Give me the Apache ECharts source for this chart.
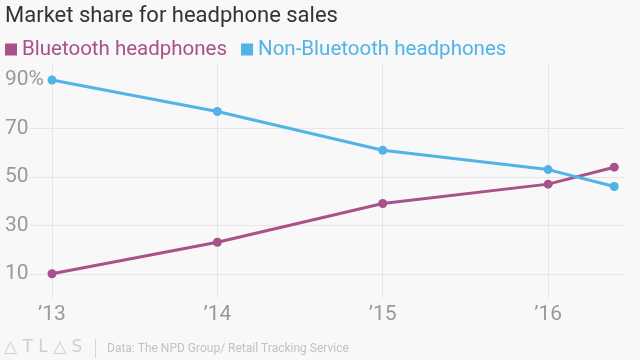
<!DOCTYPE html>
<html><head><meta charset="utf-8">
<script src="https://cdn.jsdelivr.net/npm/echarts@6/dist/echarts.min.js"></script>
<style>html,body{margin:0;padding:0;background:#f8f8f8}#c{width:640px;height:360px}</style>
</head><body><div id="c"></div>
<script>
const years = [2013, 2014, 2015, 2016, 2016.4];
const bluetooth = [10, 23, 39, 47, 54];
const nonBluetooth = [90, 77, 61, 53, 46];
const xTicks = [2013, 2014, 2015, 2016];
const yTicks = [10, 30, 50, 70, 90];
const seriesNames = ['Bluetooth headphones', 'Non-Bluetooth headphones'];
const colors = ['#a9518b', '#51b3e6'];
const FONT = '"Liberation Sans Narrow", "Roboto", sans-serif';

const chart = echarts.init(document.getElementById('c'));
chart.setOption({
  backgroundColor: '#f8f8f8',
  animation: false,
  title: {
    text: 'Market share for headphone sales',
    left: 0, top: 5, padding: [0, 5, 0, 5],
    textStyle: { fontFamily: FONT, fontSize: 22, fontWeight: 'normal', color: '#333' }
  },
  legend: {
    left: 0, top: 39, padding: [0, 5, 0, 5],
    icon: 'rect', itemWidth: 12, itemHeight: 12, itemGap: 14,
    textStyle: { fontFamily: FONT, fontSize: 20.5 },
    data: seriesNames.map((n, i) => ({ name: n, textStyle: { color: colors[i] } }))
  },
  grid: { left: 30, right: 15, top: 63, bottom: 62 },
  xAxis: {
    type: 'value', min: 2012.867, max: 2016.465,
    axisLine: { show: false }, axisTick: { show: false }, splitLine: { show: false },
    axisLabel: {
      customValues: xTicks, margin: 6,
      fontFamily: FONT, fontSize: 21, color: '#999',
      formatter: v => '\u2019' + String(Math.round(v)).slice(2)
    }
  },
  yAxis: {
    type: 'value', min: 0, max: 97,
    axisLine: { show: false }, axisTick: { show: false }, splitLine: { show: false },
    axisLabel: {
      customValues: yTicks, margin: 25, align: 'left',
      fontFamily: FONT, fontSize: 21, color: '#999',
      formatter: v => v === 90 ? '90%' : String(v)
    }
  },
  series: [
    {
      type: 'line', name: '_grid', data: [], z: 0, silent: true,
      markLine: {
        z: 0, zlevel: 0,
        silent: true, symbol: 'none', animation: false,
        label: { show: false },
        lineStyle: { color: '#e6e6e6', width: 1, type: 'solid' },
        data: yTicks.filter(v => v !== 90).map(v => ({ yAxis: v }))
          .concat(xTicks.map(v => ({ xAxis: v })))
      }
    },
    {
      type: 'line', name: seriesNames[0], z: 3,
      data: years.map((x, i) => [x, bluetooth[i]]),
      symbol: 'circle', symbolSize: 9,
      itemStyle: { color: colors[0], borderWidth: 0 },
      lineStyle: { color: colors[0], width: 3 }
    },
    {
      type: 'line', name: seriesNames[1], z: 3,
      data: years.map((x, i) => [x, nonBluetooth[i]]),
      symbol: 'circle', symbolSize: 9,
      itemStyle: { color: colors[1], borderWidth: 0 },
      lineStyle: { color: colors[1], width: 3 }
    }
  ],
  graphic: [
    { type: 'text', left: 4, top: 339,
      style: { text: '\u25B3 T L \u25B3 S', fontFamily: '"DejaVu Sans", sans-serif', fontSize: 17, fill: '#cfcfcf' } },
    { type: 'rect', left: 95, top: 339, shape: { width: 1, height: 19 }, style: { fill: '#d6d6d6' } },
    { type: 'text', left: 107, top: 343,
      style: { text: 'Data: The NPD Group/ Retail Tracking Service', fontFamily: FONT, fontSize: 12, fill: '#c2c2c2' } }
  ]
});
</script></body></html>
